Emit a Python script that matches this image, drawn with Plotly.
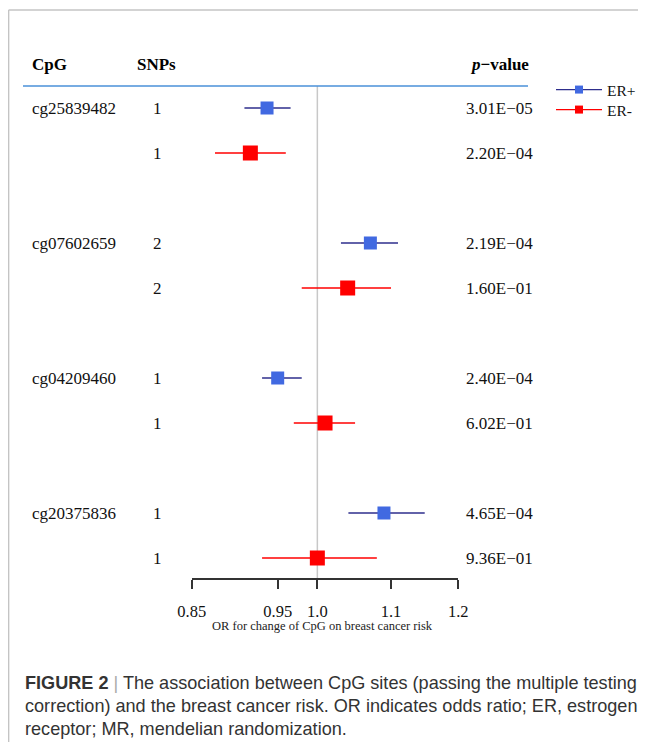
import math
import plotly.graph_objects as go

# ---------------- data ----------------
cpg_sites = ["cg25839482", "cg07602659", "cg04209460", "cg20375836"]
groups = ["ER+", "ER-"]
snps_er_pos = [1, 2, 1, 1]
snps_er_neg = [1, 2, 1, 1]
or_er_pos = [0.937, 1.071, 0.950, 1.090]
lo_er_pos = [0.910, 1.031, 0.931, 1.041]
hi_er_pos = [0.966, 1.110, 0.980, 1.149]
or_er_neg = [0.917, 1.040, 1.010, 1.000]
lo_er_neg = [0.876, 0.980, 0.970, 0.931]
hi_er_neg = [0.960, 1.100, 1.050, 1.080]
p_er_pos = ["3.01E\u221205", "2.19E\u221204", "2.40E\u221204", "4.65E\u221204"]
p_er_neg = ["2.20E\u221204", "1.60E\u221201", "6.02E\u221201", "9.36E\u221201"]
tick_vals = [0.85, 0.95, 1.0, 1.1, 1.2]
tick_text = ["0.85", "0.95", "1.0", "1.1", "1.2"]
x_title = "OR for change of CpG on breast cancer risk"
caption_lines = [
    "<b>FIGURE 2</b> <span style='color:#aaaaaa'>|</span> The association between CpG sites (passing the multiple testing",
    "correction) and the breast cancer risk. OR indicates odds ratio; ER, estrogen",
    "receptor; MR, mendelian randomization.",
]

# ---------------- layout constants ----------------
# page body has an 8px margin; the figure is sized to fit inside the window
OFF = 8
W, H = 630, 734
ROW_PX = 45.0
FIRST_ROW_PX = 108.0      # positions below are in window pixels
AXIS_PX = 579.0
HEADER_LINE_PX = 86.0
X_LEFT_PX, X_RIGHT_PX = 191.7, 458.3
LEGEND_Y_PX = [90, 110]

SERIF = "Liberation Serif, Times New Roman, serif"
SANS = "Liberation Sans, Arial, sans-serif"
BLUE_FILL = "#4169E1"
BLUE_LINE = "#2E2E8C"
RED = "#FF0000"


def px_to_row(py):
    return (py - FIRST_ROW_PX) / ROW_PX


def fx(px):
    return (px - OFF) / W


def fy(py):
    return 1 - (py - OFF) / H


rows_pos = [3 * g for g in range(len(cpg_sites))]
rows_neg = [3 * g + 1 for g in range(len(cpg_sites))]

fig = go.Figure()

# reference line at OR = 1
fig.add_trace(go.Scatter(
    x=[1.0, 1.0], y=[px_to_row(HEADER_LINE_PX), px_to_row(AXIS_PX)],
    mode="lines", line=dict(color="#c8c8c8", width=1.5),
    showlegend=False, hoverinfo="skip"))

series = [
    (groups[0], rows_pos, or_er_pos, lo_er_pos, hi_er_pos, BLUE_FILL, BLUE_LINE, 13, "legend"),
    (groups[1], rows_neg, or_er_neg, lo_er_neg, hi_er_neg, RED, RED, 15, "legend2"),
]
for name, rows, ors, los, his, fill, lcol, msize, leg in series:
    fig.add_trace(go.Scatter(
        x=ors, y=rows, mode="markers", name=name, showlegend=False,
        marker=dict(symbol="square", size=msize, color=fill, line=dict(width=0)),
        error_x=dict(type="data", symmetric=False,
                     array=[h - o for h, o in zip(his, ors)],
                     arrayminus=[o - l for o, l in zip(ors, los)],
                     width=0, thickness=1.4, color=lcol)))
    # legend entry
    fig.add_trace(go.Scatter(
        x=[None], y=[None], mode="lines+markers", name=name, legend=leg,
        line=dict(color=lcol, width=1.4),
        marker=dict(symbol="square", size=8, color=fill)))

ann = []
hdr_font = dict(family=SERIF, size=17, color="black")
row_font = dict(family=SERIF, size=17, color="#111")
# header
ann.append(dict(x=fx(30), y=fy(65), xref="paper", yref="paper", xanchor="left", yanchor="middle",
                text="<b>CpG</b>", showarrow=False, font=hdr_font))
ann.append(dict(x=fx(135), y=fy(65), xref="paper", yref="paper", xanchor="left", yanchor="middle",
                text="<b>SNPs</b>", showarrow=False, font=hdr_font))
ann.append(dict(x=fx(531), y=fy(65), xref="paper", yref="paper", xanchor="right", yanchor="middle",
                text="<b><i>p</i>\u2212value</b>", showarrow=False, font=hdr_font))

for i, site in enumerate(cpg_sites):
    ann.append(dict(x=fx(30), y=rows_pos[i], xref="paper", yref="y", xanchor="left", yanchor="middle",
                    text=site, showarrow=False, font=row_font))
    for rows, snps, pv in ((rows_pos, snps_er_pos, p_er_pos), (rows_neg, snps_er_neg, p_er_neg)):
        ann.append(dict(x=fx(157), y=rows[i], xref="paper", yref="y", xanchor="center", yanchor="middle",
                        text=str(snps[i]), showarrow=False, font=row_font))
        ann.append(dict(x=fx(535), y=rows[i], xref="paper", yref="y", xanchor="right", yanchor="middle",
                        text=pv[i], showarrow=False, font=row_font))

# axis title
ann.append(dict(x=fx(322.5), y=fy(626), xref="paper", yref="paper", xanchor="center", yanchor="middle",
                text=x_title, showarrow=False, font=dict(family=SERIF, size=12.5, color="#222")))

# caption
for k, line in enumerate(caption_lines):
    ann.append(dict(x=fx(23), y=fy(683 + 23 * k), xref="paper", yref="paper", xanchor="left",
                    yanchor="middle", text=line, showarrow=False,
                    font=dict(family=SANS, size=18.1, color="#333")))

shapes = [
    # frame
    dict(type="line", xref="paper", yref="paper", x0=fx(8.6), x1=1, y0=fy(10), y1=fy(10),
         line=dict(color="#c4c4c4", width=1.5)),
    dict(type="line", xref="paper", yref="paper", x0=fx(8.6), x1=fx(8.6), y0=fy(10), y1=0,
         line=dict(color="#c4c4c4", width=1.5)),
    # header separator
    dict(type="line", xref="paper", yref="paper", x0=fx(23), x1=fx(528),
         y0=fy(HEADER_LINE_PX), y1=fy(HEADER_LINE_PX),
         line=dict(color="#4A90D9", width=1.5)),
]

legend_style = dict(xanchor="left", yanchor="middle",
                    font=dict(family=SERIF, size=15.5, color="#111"),
                    bgcolor="rgba(0,0,0,0)", itemwidth=46, tracegroupgap=0)

fig.update_layout(
    width=W, height=H,
    margin=dict(l=0, r=0, t=0, b=0, pad=0, autoexpand=False),
    paper_bgcolor="white", plot_bgcolor="rgba(0,0,0,0)",
    annotations=ann, shapes=shapes,
    showlegend=True,
    legend=dict(x=fx(551), y=fy(LEGEND_Y_PX[0]), **legend_style),
    legend2=dict(x=fx(551), y=fy(LEGEND_Y_PX[1]), **legend_style),
    xaxis=dict(type="log", domain=[fx(X_LEFT_PX), fx(X_RIGHT_PX)],
               range=[math.log10(tick_vals[0]), math.log10(tick_vals[-1])],
               anchor="free", position=fy(AXIS_PX), automargin=False,
               showline=True, linecolor="#333", linewidth=2,
               ticks="outside", ticklen=9, tickwidth=2, tickcolor="#333",
               ticklabelstandoff=8,
               tickvals=tick_vals, ticktext=tick_text,
               tickfont=dict(family=SERIF, size=16.5, color="#111"),
               showgrid=False, zeroline=False),
    yaxis=dict(domain=[0, 1], range=[px_to_row(OFF + H), px_to_row(OFF)], visible=False,
               showgrid=False, zeroline=False, automargin=False),
)

fig.write_html("out.html")
